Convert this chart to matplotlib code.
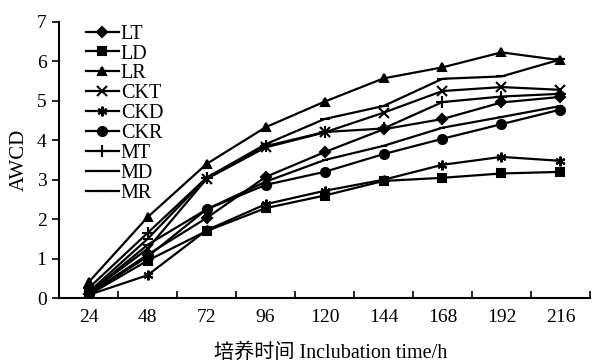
import numpy as np
import matplotlib
matplotlib.use("Agg")
import matplotlib.pyplot as plt

# 培养时间 (h)
hours = [24, 48, 72, 96, 120, 144, 168, 192, 216]

# AWCD 读数
LT = [0.10, 1.10, 2.03, 3.07, 3.70, 4.28, 4.54, 4.96, 5.10]
LD = [0.08, 0.95, 1.70, 2.28, 2.60, 2.97, 3.05, 3.16, 3.20]
LR = [0.40, 2.05, 3.40, 4.33, 4.98, 5.57, 5.85, 6.23, 6.03]
CKT = [0.12, 1.25, 3.02, 3.82, 4.20, 4.70, 5.25, 5.35, 5.28]
CKD = [0.08, 0.58, 1.72, 2.38, 2.72, 3.00, 3.38, 3.58, 3.48]
CKR = [0.10, 1.05, 2.25, 2.87, 3.20, 3.65, 4.04, 4.41, 4.78]
MT = [0.25, 1.65, 3.05, 3.85, 4.21, 4.30, 4.97, 5.11, 5.18]
MD = [0.12, 1.35, 2.25, 2.95, 3.50, 3.86, 4.32, 4.59, 4.87]
MR = [0.15, 1.50, 3.05, 3.90, 4.54, 4.87, 5.56, 5.62, 6.05]

series = [
    ("LT", LT, "D", 5),
    ("LD", LD, "s", 6),
    ("LR", LR, "^", 6),
    ("CKT", CKT, "x", 7),
    ("CKD", CKD, (6, 2, 0), 7),
    ("CKR", CKR, "o", 6.5),
    ("MT", MT, "+", 8),
    ("MD", MD, "_", 5),
    ("MR", MR, "_", 7),
]

plt.rcParams['font.family'] = ['Liberation Serif', 'Noto Sans CJK SC']

fig = plt.figure(figsize=(5.92, 3.64), dpi=100)
ax = fig.add_axes([0.0997, 0.181, 0.8969, 0.7586])

x = np.arange(1, len(hours) + 1)
for name, vals, mk, ms in series:
    ax.plot(x, vals, color='black', linewidth=1.6, marker=mk, markersize=ms,
            markeredgewidth=1.5, label=name)

ax.set_xlim(0.5, len(hours) + 0.5)
ax.set_ylim(0, 7)
ax.set_yticks(range(0, 8))
ax.set_xticks(np.arange(0.5, len(hours) + 1, 1.0))
ax.set_xticklabels([])
ax.set_xticks(x, minor=True)
ax.set_xticklabels([str(h) for h in hours], minor=True)
ax.tick_params(axis='x', which='major', direction='in', length=5, width=1.2)
ax.tick_params(axis='x', which='minor', length=0, pad=8, labelsize=14)
ax.tick_params(axis='y', direction='out', length=5, width=1.2, labelsize=14, pad=4)

for s in ['top', 'right']:
    ax.spines[s].set_visible(False)
for s in ['left', 'bottom']:
    ax.spines[s].set_linewidth(1.5)

ax.set_ylabel('AWCD', fontsize=15, labelpad=6)

# x 轴标题
fig.text(0.559, 0.030, '培养时间 Inclubation time/h', fontsize=14.5,
         ha='center', va='center')

leg = ax.legend(loc='upper left', bbox_to_anchor=(0.035, 1.02), frameon=False,
                fontsize=14.5, handlelength=1.65, handletextpad=0.1,
                labelspacing=0.04, borderaxespad=0)

fig.savefig('out.png', dpi=100)
